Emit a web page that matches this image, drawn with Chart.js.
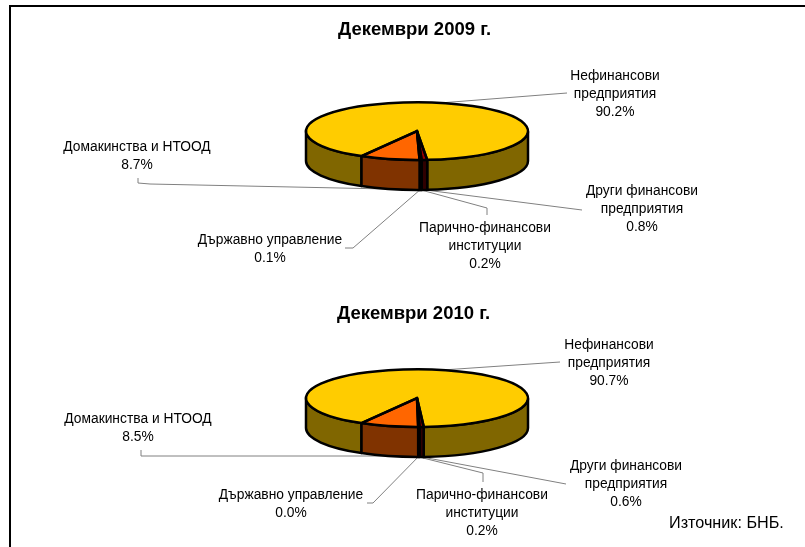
<!DOCTYPE html>
<html>
<head>
<meta charset="utf-8">
<style>
  html, body { margin: 0; background: #fff; overflow: hidden; }
  #frame { position: absolute; left: 9px; top: 5px; width: 796px; height: 542px; border-left: 2px solid #000; border-top: 2px solid #000; box-sizing: border-box; }
  canvas { position: absolute; left: 0; }
  #c1 { top: 0; }
  #c2 { top: 290px; }
</style>
</head>
<body>
<div id="frame"></div>
<canvas id="c1" width="805" height="290"></canvas>
<canvas id="c2" width="805" height="257"></canvas>
<script src="https://cdn.jsdelivr.net/npm/chart.js@4"></script>
<script>
const categories = [
  ['Нефинансови', 'предприятия'],
  ['Други финансови', 'предприятия'],
  ['Парично-финансови', 'институции'],
  ['Държавно управление'],
  ['Домакинства и НТООД']
];
const values2009 = [90.2, 0.8, 0.2, 0.1, 8.7];
const values2010 = [90.7, 0.6, 0.2, 0.0, 8.5];

const topColors = ['#ffcc00', '#990000', '#800000', '#660000', '#ff6600'];
const sideColors = ['#806600', '#300000', '#400000', '#300000', '#803300'];

const FONT = '"Liberation Sans", Arial, sans-serif';
const PIE_ROTATION = 210;
const RADIUS = 111;
const SQUASH = 0.26;
const DEPTH = 30;

// label centre and first text row, local to each canvas
const labels2009 = [
  { x: 615, y: 75, path: [[567, 93]] },
  { x: 642, y: 190, path: [[582, 210]] },
  { x: 485, y: 227, path: [[487, 208], [487, 215]] },
  { x: 270, y: 239, path: [[353, 248], [345, 248]] },
  { x: 137, y: 146, path: [[150, 184], [138, 183], [138, 178]] }
];
const labels2010 = [
  { x: 609, y: 54, path: [[560, 72]] },
  { x: 626, y: 175, path: [[566, 194]] },
  { x: 482, y: 204, path: [[483, 183], [483, 192]] },
  { x: 291, y: 204, path: [[373, 213], [367, 213]] },
  { x: 138, y: 128, path: [[141, 166], [141, 160]] }
];

function frontParts(a, b) {
  const parts = [];
  for (const [lo, hi] of [[0, Math.PI], [2 * Math.PI, 3 * Math.PI]]) {
    const s = Math.max(a, lo), e = Math.min(b, hi);
    if (e > s) parts.push([s, e]);
  }
  return parts;
}

const pie3d = {
  id: 'pie3d',
  beforeDatasetsDraw(chart, args, opts) {
    const ctx = chart.ctx;
    const arcs = chart.getDatasetMeta(0).data;
    const cx = arcs[0].x, cy = arcs[0].y;
    const rx = arcs[0].outerRadius, ry = rx * SQUASH;

    // leader lines go behind the pie
    ctx.save();
    ctx.strokeStyle = '#808080';
    ctx.lineWidth = 1;
    arcs.forEach((arc, i) => {
      const mid = (arc.startAngle + arc.endAngle) / 2;
      const sy = Math.sin(mid);
      ctx.beginPath();
      ctx.moveTo(cx + rx * Math.cos(mid), cy + ry * sy + (sy > 0 ? DEPTH : 0));
      opts.labels[i].path.forEach(p => ctx.lineTo(p[0], p[1]));
      ctx.stroke();
    });
    ctx.restore();

    // side walls, only the front half shows
    ctx.save();
    ctx.strokeStyle = '#000';
    ctx.lineWidth = 2.5;
    ctx.lineJoin = 'round';
    arcs.forEach((arc, i) => {
      let a = arc.startAngle, b = arc.endAngle;
      while (a < 0) { a += 2 * Math.PI; b += 2 * Math.PI; }
      frontParts(a, b).forEach(([s, e]) => {
        ctx.beginPath();
        ctx.ellipse(cx, cy, rx, ry, 0, s, e);
        ctx.ellipse(cx, cy + DEPTH, rx, ry, 0, e, s, true);
        ctx.closePath();
        ctx.fillStyle = sideColors[i];
        ctx.fill();
        ctx.stroke();
      });
    });
    ctx.restore();

    // the library draws the top face, squashed into an ellipse
    ctx.save();
    ctx.translate(cx, cy);
    ctx.scale(1, SQUASH);
    ctx.translate(-cx, -cy);
  },
  afterDatasetsDraw(chart, args, opts) {
    const ctx = chart.ctx;
    ctx.restore();
    const arcs = chart.getDatasetMeta(0).data;
    const cx = arcs[0].x, cy = arcs[0].y;
    const rx = arcs[0].outerRadius, ry = rx * SQUASH;

    ctx.save();
    ctx.strokeStyle = '#000';
    ctx.lineWidth = 2.5;
    ctx.lineJoin = 'round';
    arcs.forEach(arc => {
      if (arc.endAngle <= arc.startAngle) return;
      ctx.beginPath();
      ctx.moveTo(cx, cy);
      ctx.ellipse(cx, cy, rx, ry, 0, arc.startAngle, arc.endAngle);
      ctx.closePath();
      ctx.stroke();
    });
    ctx.restore();

    // labels
    ctx.save();
    ctx.fillStyle = '#000';
    ctx.font = '13.8px ' + FONT;
    ctx.textAlign = 'center';
    ctx.textBaseline = 'middle';
    opts.labels.forEach((l, i) => {
      const lines = categories[i].concat(opts.values[i].toFixed(1) + '%');
      lines.forEach((t, j) => ctx.fillText(t, l.x, l.y + 1 + j * 18.3));
    });
    if (opts.source) {
      ctx.font = '16.2px ' + FONT;
      ctx.textAlign = 'left';
      ctx.fillText(opts.source, 669, 234);
    }
    ctx.restore();
  }
};

function makePie(id, title, values, labels, pad, titlePad, source) {
  new Chart(document.getElementById(id), {
    type: 'pie',
    data: {
      labels: categories.map(c => c.join(' ')),
      datasets: [{
        data: values,
        backgroundColor: topColors,
        borderWidth: 0,
        clip: false
      }]
    },
    options: {
      responsive: false,
      animation: false,
      rotation: PIE_ROTATION,
      radius: RADIUS,
      layout: { padding: pad },
      plugins: {
        legend: { display: false },
        tooltip: { enabled: false },
        title: {
          display: true,
          text: title,
          align: 'start',
          color: '#000',
          padding: titlePad,
          font: { family: FONT, size: 18.5, weight: 'bold' }
        },
        pie3d: { labels, values, source }
      }
    },
    plugins: [pie3d]
  });
}

makePie('c1', 'Декември 2009 г.', values2009, labels2009,
  { left: 338, right: 309, top: 0, bottom: 69 }, { top: 19, bottom: 0 }, '');
makePie('c2', 'Декември 2010 г.', values2010, labels2010,
  { left: 337, right: 308, top: 0, bottom: 76 }, { top: 13, bottom: 0 }, 'Източник: БНБ.');
</script>
</body>
</html>
